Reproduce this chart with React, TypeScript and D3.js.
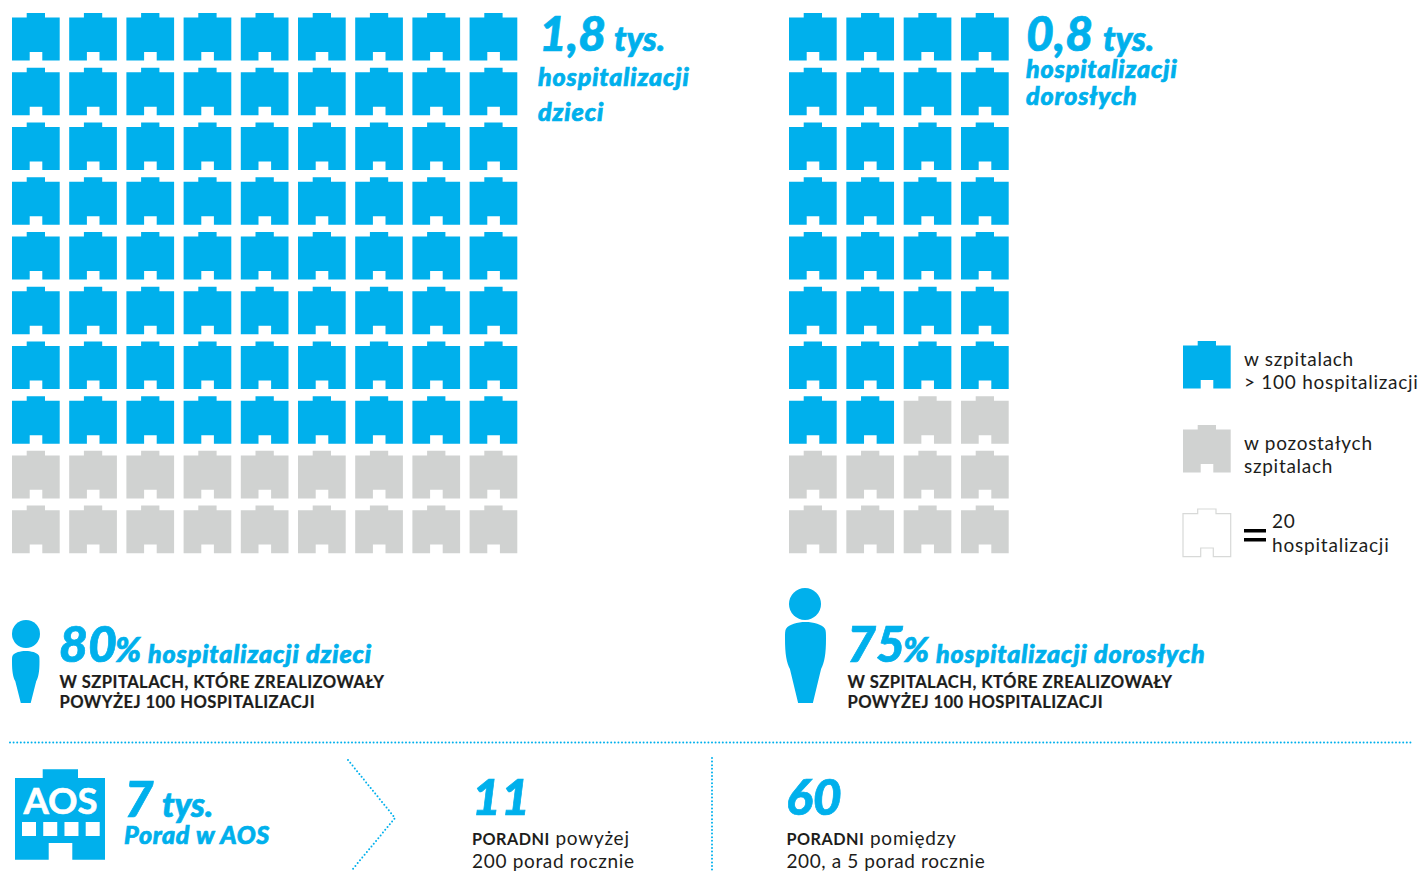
import React from "react";
import * as d3 from "d3";

const BLUE = "#00b0ec";
const GREY = "#d0d2d1";
const INK = "#1d1d1b";
const FONT = "Lato, sans-serif";

// One building stands for 20 hospitalizations
const childrenBuildings = [72, 18];
const adultBuildings = [30, 10];
const childColumns = d3.range(9);
const adultColumns = d3.range(4);
const rows = d3.range(10);
const aosWindows = d3.range(4);

const childX = d3.scaleLinear().domain([0, 8]).range([12, 469.6]);
const adultX = d3.scaleLinear().domain([0, 3]).range([789, 961]);
const rowY = d3.scaleLinear().domain([0, 9]).range([13, 505.6]);
const windowX = d3.scaleLinear().domain([0, 3]).range([22, 85.7]);

const BUILDING_PATH =
  "M0 4.6H14.7V0H33V4.6H47.7V47.6H30.3V39H17.7V47.6H0Z";
const PERSON_PATH =
  "M50 0C70 0 90 3 97 8C100 10 100 14 100 20C100 40 96 50 88 58L68 100H32L12 58C4 50 0 40 0 20C0 14 0 10 3 8C10 3 30 0 50 0Z";

function cellsFor(columns: number[], blueCount: number) {
  // Filled row by row, blue first
  return rows.flatMap((r) =>
    columns.map((c) => ({
      r,
      c,
      blue: r * columns.length + c < blueCount,
    }))
  );
}

function Grid({
  columns,
  counts,
  x,
}: {
  columns: number[];
  counts: number[];
  x: d3.ScaleLinear<number, number>;
}) {
  return (
    <g>
      {cellsFor(columns, counts[0]).map((d) => (
        <path
          key={`${d.r}-${d.c}`}
          d={BUILDING_PATH}
          transform={`translate(${x(d.c)},${rowY(d.r)})`}
          fill={d.blue ? BLUE : GREY}
        />
      ))}
    </g>
  );
}

function Person({
  cx,
  headY,
  r,
  left,
  right,
  top,
  bottom,
}: {
  cx: number;
  headY: number;
  r: number;
  left: number;
  right: number;
  top: number;
  bottom: number;
}) {
  return (
    <g fill={BLUE}>
      <circle cx={cx} cy={headY} r={r} />
      <path
        d={PERSON_PATH}
        transform={`translate(${left},${top}) scale(${(right - left) / 100},${(bottom - top) / 100})`}
      />
    </g>
  );
}

function T({
  x,
  y,
  size,
  children,
  fill = INK,
  weight = 400,
  italic = false,
  ls = 0,
  anchor,
  stroke,
  strokeWidth,
}: any) {
  return (
    <text
      x={x}
      y={y}
      fontSize={size}
      fill={fill}
      fontWeight={weight}
      fontStyle={italic ? "italic" : "normal"}
      letterSpacing={ls}
      textAnchor={anchor}
      fontFamily={FONT}
      stroke={stroke}
      strokeWidth={strokeWidth}
    >
      {children}
    </text>
  );
}

const Head = (p: any) => (
  <T fill={BLUE} weight={900} italic stroke={BLUE} strokeWidth={0.7} {...p} />
);

function Dotted({ d }: { d: string }) {
  return (
    <path
      d={d}
      fill="none"
      stroke={BLUE}
      strokeWidth={2}
      strokeDasharray="0 3.6"
      strokeLinecap="round"
    />
  );
}

export default function App() {
  return (
    <svg
      width={1418}
      height={871}
      viewBox="0 0 1418 871"
      style={{ position: "absolute", left: 0, top: 0, display: "block", background: "#fff" }}
    >
      <Grid columns={childColumns} counts={childrenBuildings} x={childX} />
      <Grid columns={adultColumns} counts={adultBuildings} x={adultX} />

      {/* Totals */}
      <Head x={539} y={51} size={48}>1,8</Head>
      <Head x={614} y={51} size={34}>tys.</Head>
      <Head x={538} y={86} size={25} ls={0.9}>hospitalizacji</Head>
      <Head x={538} y={120.5} size={25} ls={0.9}>dzieci</Head>

      <Head x={1026} y={51} size={48}>0,8</Head>
      <Head x={1103} y={51} size={34}>tys.</Head>
      <Head x={1026} y={78} size={25} ls={0.9}>hospitalizacji</Head>
      <Head x={1026} y={105} size={25} ls={0.9}>dorosłych</Head>

      {/* Legend */}
      <path d={BUILDING_PATH} transform="translate(1183,341)" fill={BLUE} />
      <T x={1244} y={365.5} size={19} ls={0.72}>w szpitalach</T>
      <T x={1244} y={388.5} size={19} ls={0.72}>&gt; 100 hospitalizacji</T>
      <path d={BUILDING_PATH} transform="translate(1183,425)" fill={GREY} />
      <T x={1244} y={449.5} size={19} ls={0.72}>w pozostałych</T>
      <T x={1244} y={472.5} size={19} ls={0.72}>szpitalach</T>
      <path
        d={BUILDING_PATH}
        transform="translate(1183,509)"
        fill="#fff"
        stroke="#d8d9d8"
        strokeWidth={1.2}
      />
      <rect x={1244} y={529} width={22} height={3.5} fill="#000" />
      <rect x={1244} y={538} width={22} height={3.5} fill="#000" />
      <T x={1272} y={528} size={19} ls={0.8}>20</T>
      <T x={1272} y={551.5} size={19} ls={0.8}>hospitalizacji</T>

      {/* Shares in large hospitals */}
      <Person cx={26} headY={634} r={14} left={12} right={39.5} top={651} bottom={703} />
      <Head x={59} y={662} size={50}>80</Head>
      <Head x={115} y={662} size={34}>%</Head>
      <Head x={148} y={663} size={25} ls={0.9}>hospitalizacji dzieci</Head>
      <T x={59.5} y={688} size={16.6} weight={700} ls={0.45} stroke={INK} strokeWidth={0.2}>W SZPITALACH, KTÓRE ZREALIZOWAŁY</T>
      <T x={59.5} y={708} size={16.6} weight={700} ls={0.45} stroke={INK} strokeWidth={0.2}>POWYŻEJ 100 HOSPITALIZACJI</T>

      <Person cx={805} headY={604} r={16} left={785} right={826} top={622} bottom={703} />
      <Head x={847} y={662} size={50}>75</Head>
      <Head x={903} y={662} size={34}>%</Head>
      <Head x={936} y={663} size={25} ls={0.9}>hospitalizacji dorosłych</Head>
      <T x={847.5} y={688} size={16.6} weight={700} ls={0.45} stroke={INK} strokeWidth={0.2}>W SZPITALACH, KTÓRE ZREALIZOWAŁY</T>
      <T x={847.5} y={708} size={16.6} weight={700} ls={0.45} stroke={INK} strokeWidth={0.2}>POWYŻEJ 100 HOSPITALIZACJI</T>

      <Dotted d="M10 742.5H1412" />

      {/* Outpatient clinics */}
      <path
        d="M15 778H42.7V769.3H78V778H105V859.7H72.3V843H48.7V859.7H15Z"
        fill={BLUE}
      />
      <T x={60.5} y={814} size={36.5} weight={700} fill="#fff" stroke="#fff" strokeWidth={0.6} anchor="middle">AOS</T>
      {aosWindows.map((i) => (
        <rect key={i} x={windowX(i)} y={822} width={14} height={14} fill="#fff" />
      ))}
      <Head x={124.5} y={817} size={50}>7</Head>
      <Head x={162} y={817} size={34}>tys.</Head>
      <Head x={124} y={843.5} size={25} ls={0.7}>Porad w AOS</Head>

      <Dotted d="M348 760L395 818L352 870" />
      <Dotted d="M712 758V870" />

      <Head x={472} y={815} size={50}>11</Head>
      <T x={472} y={845} size={19} ls={0.75}>
        <tspan fontWeight={700} fontSize={16.2} letterSpacing={0.5}>PORADNI</tspan> powyżej
      </T>
      <T x={472} y={868} size={19} ls={0.68}>200 porad rocznie</T>

      <Head x={786} y={815} size={50}>60</Head>
      <T x={786.5} y={845} size={19} ls={0.75}>
        <tspan fontWeight={700} fontSize={16.2} letterSpacing={0.5}>PORADNI</tspan> pomiędzy
      </T>
      <T x={786.5} y={868} size={19} ls={0.6}>200, a 5 porad rocznie</T>
    </svg>
  );
}
